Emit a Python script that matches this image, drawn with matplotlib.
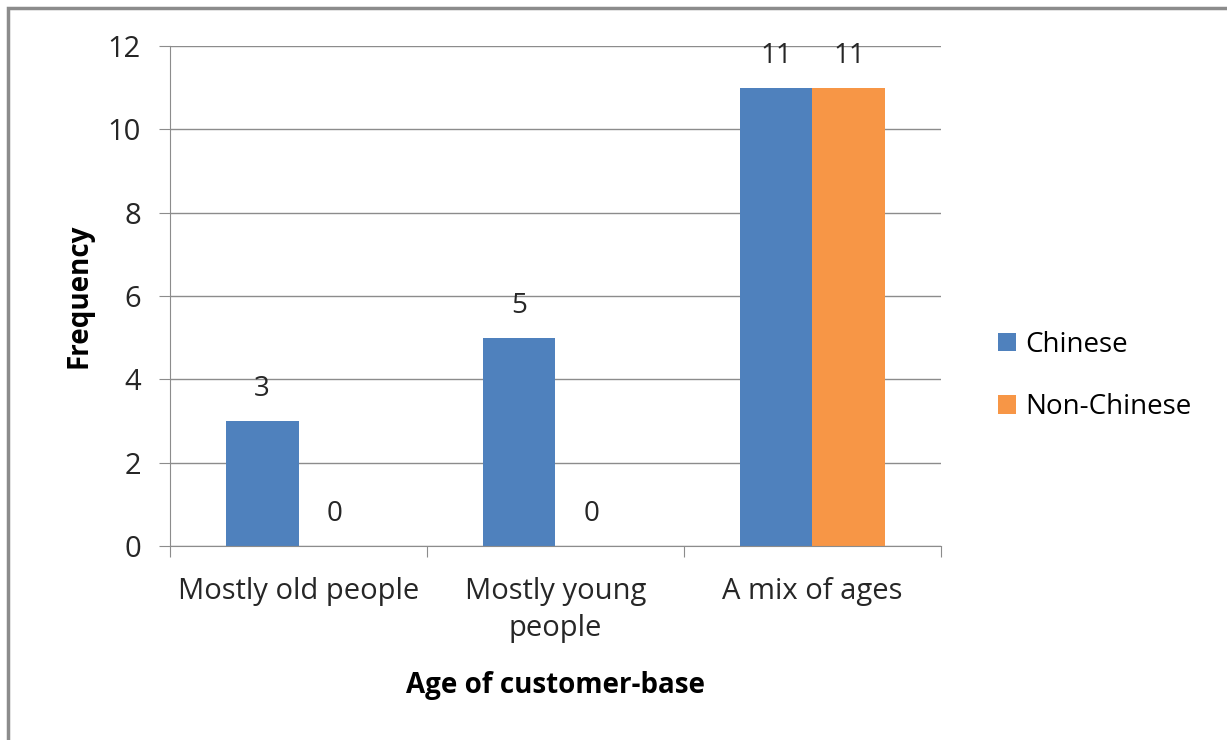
from matplotlib import pyplot as plt
from matplotlib.patches import Rectangle
import numpy as np

categories = ["Mostly old people", "Mostly young\npeople", "A mix of ages"]
chinese = [3, 5, 11]
non_chinese = [0, 0, 11]
series_names = ["Chinese", "Non-Chinese"]

plt.rcParams['font.family'] = ['Open Sans', 'DejaVu Sans']

fig = plt.figure(figsize=(12.27, 7.40), dpi=100)
# outer chart border (only top/left visible in the reference)
fig.patches.append(Rectangle((8 / 1227, -0.1), 1.2, 1 - 8 / 740 + 0.1,
                             transform=fig.transFigure, fill=False,
                             edgecolor='#8c8c8c', linewidth=2.5))

ax = fig.add_axes([170 / 1227, 1 - 546 / 740, 771 / 1227, 500 / 740])
x = np.arange(len(categories))
w = 0.284
blue = '#4F81BD'
orange = '#F79646'
b1 = ax.bar(x - w / 2, chinese, width=w, color=blue, label=series_names[0])
b2 = ax.bar(x + w / 2, non_chinese, width=w, color=orange, label=series_names[1])

for bars in (b1, b2):
    for r in bars:
        ax.annotate(str(int(r.get_height())), (r.get_x() + r.get_width() / 2, r.get_height()),
                    xytext=(0, 13), textcoords='offset points', ha='center', va='bottom',
                    fontsize=20, color='#262626')

ax.set_xlim(-0.5, 2.5)
ax.set_ylim(0, 12)
ax.set_yticks(range(0, 13, 2))
ax.yaxis.grid(True, color='#8c8c8c', linewidth=1)
ax.set_axisbelow(True)
for s in ['top', 'right']:
    ax.spines[s].set_visible(False)
for s in ['left', 'bottom']:
    ax.spines[s].set_color('#8c8c8c')
ax.tick_params(axis='y', length=8, color='#8c8c8c', labelsize=21, labelcolor='#262626', pad=13)
ax.set_xticks([-0.5, 0.5, 1.5, 2.5], minor=False)
ax.set_xticklabels([])
ax.set_xticks(x, minor=True)
ax.set_xticklabels(categories, minor=True, fontsize=21, color='#262626', linespacing=1.4)
ax.tick_params(axis='x', which='major', length=8, color='#8c8c8c')
ax.tick_params(axis='x', which='minor', length=0, pad=22)

ax.set_ylabel("Frequency", fontsize=20, fontweight='bold', labelpad=10)
ax.set_xlabel("Age of customer-base", fontsize=20, fontweight='bold', labelpad=20)

ax.legend(loc='center left', bbox_to_anchor=(1.042, 0.34), frameon=False, fontsize=20,
          handlelength=0.65, handleheight=0.65, labelspacing=1.25, handletextpad=0.3)

plt.savefig("out.png")
